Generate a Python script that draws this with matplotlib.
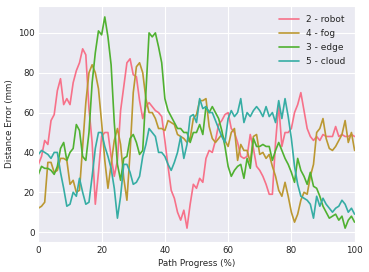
import numpy as np
import matplotlib
matplotlib.use("Agg")
import matplotlib.pyplot as plt
import seaborn as sns

# distance error along the path, one value per percent of progress
progress = np.arange(0, 101)

robot = [34, 38, 46, 44, 56, 59, 71, 77, 64, 67, 64, 75, 81, 85, 92, 89, 62, 45, 14, 30,
         48, 50, 50, 38, 28, 36, 61, 73, 85, 87, 79, 78, 66, 57, 63, 65, 63, 61, 60, 58,
         46, 33, 21, 17, 10, 6, 11, 2, 14, 24, 22, 27, 25, 37, 41, 40, 46, 54, 56, 59,
         60, 52, 50, 45, 38, 37, 38, 49, 42, 33, 31, 28, 24, 19, 19, 45, 64, 43, 50, 50,
         52, 60, 64, 70, 61, 52, 48, 46, 48, 46, 49, 48, 48, 48, 53, 48, 49, 48, 48, 49,
         48]
fog = [12, 13, 15, 35, 35, 30, 31, 37, 37, 36, 24, 26, 20, 21, 43, 65, 80, 84, 80, 72,
       55, 36, 22, 34, 46, 52, 44, 27, 16, 40, 70, 83, 85, 80, 67, 60, 60, 57, 52, 52,
       51, 56, 55, 54, 49, 48, 47, 45, 47, 57, 59, 66, 66, 67, 53, 47, 45, 47, 49, 46,
       43, 50, 52, 36, 44, 41, 41, 35, 48, 49, 39, 40, 37, 39, 33, 28, 21, 18, 25, 18,
       10, 5, 9, 16, 20, 19, 28, 34, 50, 52, 57, 47, 42, 41, 43, 46, 49, 56, 45, 50,
       41]
edge = [29, 33, 32, 32, 31, 29, 33, 42, 45, 36, 40, 42, 54, 51, 38, 36, 50, 75, 90, 101,
        99, 108, 98, 84, 55, 34, 26, 37, 38, 47, 49, 45, 39, 41, 70, 100, 98, 100, 93, 85,
        67, 61, 58, 55, 52, 52, 50, 50, 45, 50, 50, 54, 49, 63, 60, 63, 60, 57, 51, 43,
        33, 28, 31, 33, 34, 27, 37, 32, 47, 43, 43, 44, 43, 43, 36, 41, 45, 41, 37, 34,
        30, 25, 37, 31, 28, 24, 30, 23, 22, 18, 13, 10, 7, 8, 9, 6, 8, 2, 6, 8,
        5]
cloud = [39, 41, 40, 39, 37, 40, 40, 30, 22, 13, 14, 20, 18, 27, 20, 14, 15, 28, 42, 50,
         50, 43, 38, 32, 22, 7, 18, 34, 34, 30, 24, 25, 28, 38, 44, 52, 50, 48, 40, 40,
         38, 34, 31, 35, 40, 48, 37, 44, 58, 59, 55, 67, 62, 63, 60, 60, 56, 52, 48, 45,
         57, 61, 58, 60, 67, 55, 60, 58, 61, 63, 61, 58, 63, 58, 60, 55, 66, 57, 67, 58,
         47, 33, 24, 18, 17, 16, 14, 7, 18, 13, 17, 14, 12, 10, 12, 13, 16, 14, 10, 12,
         9]

series = [("2 - robot", robot), ("4 - fog", fog), ("3 - edge", edge), ("5 - cloud", cloud)]

sns.set_style("darkgrid")
plt.rcParams['font.family'] = ['DejaVu Sans']
colors = sns.color_palette("husl", 6)

fig = plt.figure(figsize=(3.69, 2.72), dpi=100)
ax = fig.add_axes([0.104, 0.110, 0.857, 0.868])

for (name, vals), c in zip(series, colors):
    ax.plot(progress, vals, color=c, lw=1.2, label=name)

ax.set_xlim(0, 100)
ax.set_ylim(-5, 113.5)
ax.set_xticks([0, 20, 40, 60, 80, 100])
ax.set_yticks([0, 20, 40, 60, 80, 100])
# no tick marks in darkgrid, so keep labels close to the axes
ax.tick_params(labelsize=6.3, colors="#262626", length=0, pad=2.5)
ax.set_xlabel("Path Progress (%)", fontsize=6.3, color="#262626", labelpad=3)
ax.set_ylabel("Distance Error (mm)", fontsize=6.3, color="#262626", labelpad=3)

ax.legend(loc="upper right", fontsize=6.5, frameon=False, handlelength=2.2,
          borderaxespad=0.6, labelspacing=0.55)

fig.savefig("out.png", dpi=100)
